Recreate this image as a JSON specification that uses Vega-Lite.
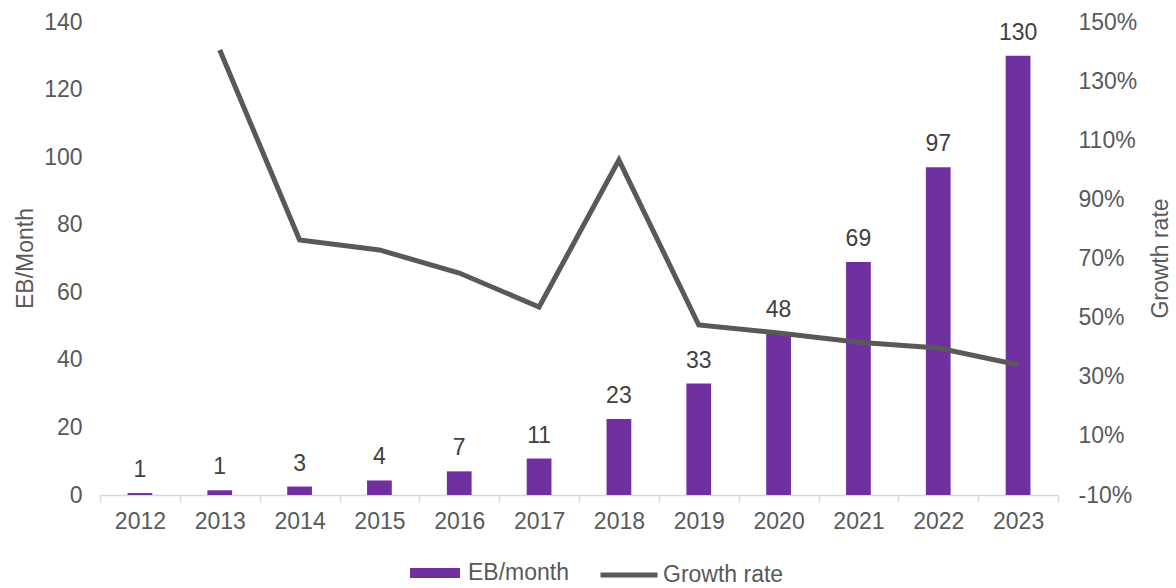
{
  "$schema": "https://vega.github.io/schema/vega-lite/v6.json",
  "width": 958,
  "height": 473,
  "autosize": {"type": "none"},
  "padding": {"left": 100, "top": 22, "right": 118, "bottom": 93},
  "background": "white",
  "config": {
    "view": {"stroke": null},
    "font": "Liberation Sans",
    "axis": {"labelFont": "Liberation Sans", "titleFont": "Liberation Sans", "labelColor": "#595959", "titleColor": "#595959", "labelFontSize": 23, "titleFontSize": 23, "titleFontWeight": "normal", "grid": false},
    "legend": {"labelFont": "Liberation Sans", "labelFontSize": 23, "labelColor": "#595959", "padding": 0}
  },
  "data": {
    "values": [
      {"year": "2012", "eb": 0.6, "growth": null},
      {"year": "2013", "eb": 1.4, "growth": 1.405},
      {"year": "2014", "eb": 2.5, "growth": 0.763},
      {"year": "2015", "eb": 4.3, "growth": 0.729},
      {"year": "2016", "eb": 7, "growth": 0.651},
      {"year": "2017", "eb": 10.8, "growth": 0.536},
      {"year": "2018", "eb": 22.5, "growth": 1.033},
      {"year": "2019", "eb": 33, "growth": 0.475},
      {"year": "2020", "eb": 48, "growth": 0.448},
      {"year": "2021", "eb": 69, "growth": 0.417},
      {"year": "2022", "eb": 97, "growth": 0.397},
      {"year": "2023", "eb": 130, "growth": 0.34}
    ]
  },
  "encoding": {
    "x": {
      "field": "year", "type": "nominal", "title": null,
      "scale": {"paddingInner": 0, "paddingOuter": 0},
      "axis": {"labelAngle": 0, "tickBand": "extent", "domainColor": "#d9d9d9", "domainWidth": 1.5, "tickColor": "#d9d9d9", "tickWidth": 1.5, "tickSize": 7, "labelPadding": 8}
    }
  },
  "layer": [
    {
      "layer": [
        {
          "mark": {"type": "bar", "width": {"band": 0.31}},
          "encoding": {
            "y": {"field": "eb", "type": "quantitative", "title": "EB/Month",
              "scale": {"domain": [0, 140], "nice": false},
              "axis": {"values": [0, 20, 40, 60, 80, 100, 120, 140], "domain": false, "ticks": false, "labelPadding": 18, "titleX": -75, "titleY": 236, "titleAngle": -90, "titleBaseline": "middle", "titleAlign": "center"}},
            "fill": {"datum": "EB/month", "type": "nominal",
              "scale": {"domain": ["EB/month"], "range": ["#7030A0"]},
              "legend": {"orient": "none", "legendX": 310, "legendY": 526, "title": null, "symbolType": "M-1,-0.2H1V0.2H-1Z", "symbolSize": 2500, "labelOffset": 8, "symbolStrokeWidth": 0}}
          }
        },
        {
          "mark": {"type": "text", "baseline": "bottom", "dy": -11, "fontSize": 23, "color": "#404040", "font": "Liberation Sans"},
          "encoding": {
            "y": {"field": "eb", "type": "quantitative"},
            "text": {"field": "eb", "type": "quantitative", "format": ".0f"}
          }
        }
      ]
    },
    {
      "mark": {"type": "line", "strokeWidth": 5},
      "encoding": {
        "y": {"field": "growth", "type": "quantitative", "title": "Growth rate",
          "scale": {"domain": [-0.1, 1.5], "nice": false},
          "axis": {"orient": "right", "format": ".0%", "labelExpr": "replace(datum.label, '\u2212', '-')", "values": [-0.1, 0.1, 0.3, 0.5, 0.7, 0.9, 1.1, 1.3, 1.5], "domain": false, "ticks": false, "labelPadding": 20, "titleX": 102, "titleY": 236, "titleAngle": -90, "titleBaseline": "middle", "titleAlign": "center"}},
        "stroke": {"datum": "Growth rate", "type": "nominal",
          "scale": {"domain": ["Growth rate"], "range": ["#595959"]},
          "legend": {"orient": "none", "legendX": 498, "legendY": 522, "title": null, "symbolType": "stroke", "symbolSize": 3249, "symbolStrokeWidth": 5, "labelOffset": 3}}
      }
    }
  ],
  "resolve": {"scale": {"y": "independent"}}
}
